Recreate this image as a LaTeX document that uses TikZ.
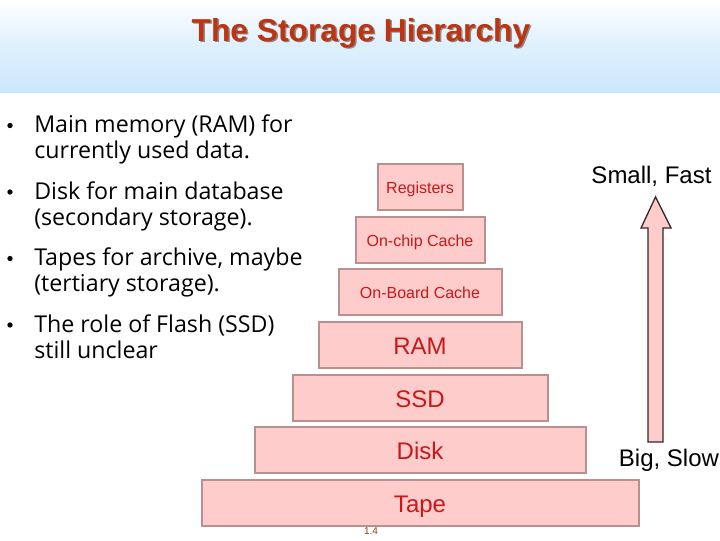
\documentclass[tikz,border=0pt]{standalone}
\usepackage{fontspec}
\setmainfont{Liberation Sans}
\newfontfamily\bodyfont{Open Sans}
\definecolor{boxfill}{HTML}{FFCCCC}
\definecolor{boxline}{HTML}{B89090}
\definecolor{boxtext}{HTML}{C81818}
\definecolor{headblue}{HTML}{CCE8FC}
\definecolor{titlered}{HTML}{BE3410}
\definecolor{pagenum}{HTML}{8A4020}
\tikzset{
  level/.style={rectangle,draw=boxline,line width=1.5pt,fill=boxfill,text=boxtext,inner sep=0pt,anchor=north west},
  bigtxt/.style={font=\fontsize{18}{20}\selectfont,text height=14.5pt,text depth=0pt},
  smalltxt/.style={font=\fontsize{12}{14}\selectfont,text height=9pt,text depth=0pt},
  bullettext/.style={anchor=north west,inner sep=0pt,align=left,font=\bodyfont\fontsize{17.4}{19.8}\selectfont,text=black},
  bulletdot/.style={circle,fill=black,inner sep=0pt,minimum size=4pt},
  sidelabel/.style={inner sep=0pt,font=\fontsize{18}{20}\selectfont,text=black},
}
\begin{document}
\begin{tikzpicture}[x=0.75pt,y=-0.75pt]
\useasboundingbox (0,0) rectangle (720,540);
\fill[white] (0,0) rectangle (720,540);
\shade[top color=white,bottom color=headblue,middle color=headblue!65] (0,0) rectangle (720,92);
\node[font=\bfseries\fontsize{23.8}{26}\selectfont,text=black!45,inner sep=0pt] (titleshadow) at (362.5,34.5) {The Storage Hierarchy};
\node[font=\bfseries\fontsize{23.8}{26}\selectfont,text=titlered,inner sep=0pt] (title) at (361,33) {The Storage Hierarchy};
% bullets
\node[bulletdot] (d1) at (10,125.5) {};
\node[bullettext] (b1) at (34,114.5) {Main memory (RAM) for\\currently used data.};
\node[bulletdot] (d2) at (10,192) {};
\node[bullettext] (b2) at (34,181) {Disk for main database\\(secondary storage).};
\node[bulletdot] (d3) at (10,258.5) {};
\node[bullettext] (b3) at (34,247.5) {Tapes for archive, maybe\\(tertiary storage).};
\node[bulletdot] (d4) at (10,325) {};
\node[bullettext] (b4) at (34,314) {The role of Flash (SSD)\\still unclear};
% pyramid
\node[level,smalltxt,minimum width=63.75pt,minimum height=34.5pt] (reg) at (376.5,163) {Registers};
\node[level,smalltxt,minimum width=96.75pt,minimum height=34.5pt] (chip) at (354.5,216) {On-chip Cache};
\node[level,smalltxt,minimum width=122.25pt,minimum height=34.5pt] (board) at (337.5,268) {On-Board Cache};
\node[level,bigtxt,minimum width=152.25pt,minimum height=34.5pt] (ram) at (317.5,321) {RAM};
\node[level,bigtxt,minimum width=191.25pt,minimum height=34.5pt] (ssd) at (291.5,374) {SSD};
\node[level,bigtxt,minimum width=248.25pt,minimum height=34.5pt] (disk) at (253.5,426) {Disk};
\node[level,bigtxt,minimum width=327.75pt,minimum height=34.5pt] (tape) at (200.5,479) {Tape};
% arrow
\draw[fill=boxfill,draw=black!80!boxfill,line width=1pt,line join=miter]
  (648,442) -- (648,228) -- (641,228) -- (655.5,197) -- (671,228) -- (663,228) -- (663,442) -- cycle;
\node[sidelabel] (fast) at (651.5,176) {Small, Fast};
\node[sidelabel] (slow) at (669,460) {Big, Slow};
\node[inner sep=0pt,font=\fontsize{7.5}{9}\selectfont,text=pagenum] (pg) at (371,531) {1.4};
\end{tikzpicture}
\end{document}
